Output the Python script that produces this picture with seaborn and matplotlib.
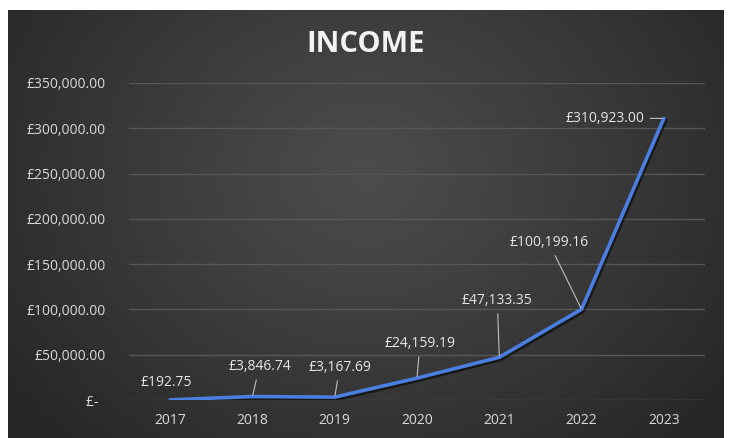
import numpy as np
import pandas as pd
import matplotlib
matplotlib.use("Agg")
import matplotlib.pyplot as plt
import matplotlib.patheffects as pe
import seaborn as sns

years = [2017, 2018, 2019, 2020, 2021, 2022, 2023]
income = [192.75, 3846.74, 3167.69, 24159.19, 47133.35, 100199.16, 310923.00]
y_ticks = [0, 50000, 100000, 150000, 200000, 250000, 300000, 350000]

# label offsets (pixels) from each point, and whether a leader line is drawn
label_offsets = [(-4, 17), (7, 30), (5, 30), (3, 35), (-2, 57), (-33, 67), (-59, 0)]
leaders = [False, True, True, True, True, True, True]

sns.set_theme(style="dark")
plt.rcParams["font.family"] = ["Open Sans", "DejaVu Sans"]

W, H = 731, 438
fig = plt.figure(figsize=(W / 100, H / 100), dpi=100)
fig.patch.set_facecolor("white")

# dark radial-gradient chart background
bx0, bx1, by_top = 8, 724, 10
bg = fig.add_axes([bx0 / W, 0, (bx1 - bx0) / W, (H - by_top) / H])
bw, bh = bx1 - bx0, H - by_top
yy, xx = np.mgrid[0:bh, 0:bw]
cx, cy = bw * 0.5, bh * 0.38
r = np.sqrt(((xx - cx) / (bw * 0.62)) ** 2 + ((yy - cy) / (bh * 0.85)) ** 2)
r = np.clip(r, 0, 1)
inner = np.array([0x4c, 0x4c, 0x4c]) / 255
outer = np.array([0x27, 0x27, 0x27]) / 255
img = inner + (outer - inner) * (r[..., None] ** 1.1)
bg.imshow(img, aspect="auto", extent=[0, 1, 0, 1], origin="upper")
bg.set_axis_off()

ax = fig.add_axes([129 / W, (H - 400) / H, (705 - 129) / W, (400 - 83) / H])
ax.set_facecolor("none")

df = pd.DataFrame({"year": years, "income": income})
sns.lineplot(data=df, x="year", y="income", ax=ax, color="#4a7ee0", lw=2.6,
             path_effects=[pe.SimpleLineShadow(offset=(1.2, -1.5), shadow_color="black", alpha=0.55),
                           pe.Normal()])

ax.set_xlim(years[0] - 0.5, years[-1] + 0.5)
ax.set_ylim(0, 350000)
ax.set_xticks(years)
ax.set_xticklabels([str(y) for y in years])
ax.set_yticks(y_ticks)
ax.set_yticklabels(["£-  " if v == 0 else f"£{v:,.2f}" for v in y_ticks])
ax.grid(axis="y", color="#575757", lw=1.0)
ax.grid(axis="x", visible=False)
for s in ax.spines.values():
    s.set_visible(False)
ax.tick_params(axis="both", colors="#d9d9d9", labelsize=10, length=0)
ax.tick_params(axis="y", pad=17)
ax.tick_params(axis="x", pad=9)
ax.set_xlabel("")
ax.set_ylabel("")

for x, v, (dx, dy), lead in zip(years, income, label_offsets, leaders):
    arrow = dict(arrowstyle="-", color="#bfbfbf", lw=0.8, shrinkA=2, shrinkB=1) if lead else None
    ax.annotate(f"£{v:,.2f}", xy=(x, v), xytext=(dx, dy), textcoords="offset pixels",
                ha="center", va="center", color="#e6e6e6", fontsize=10,
                arrowprops=arrow)

fig.text(0.5, 1 - 44 / H, "INCOME", ha="center", va="center", color="#f2f2f2",
         fontsize=21, fontweight="bold")

fig.savefig("out.png", dpi=100)
